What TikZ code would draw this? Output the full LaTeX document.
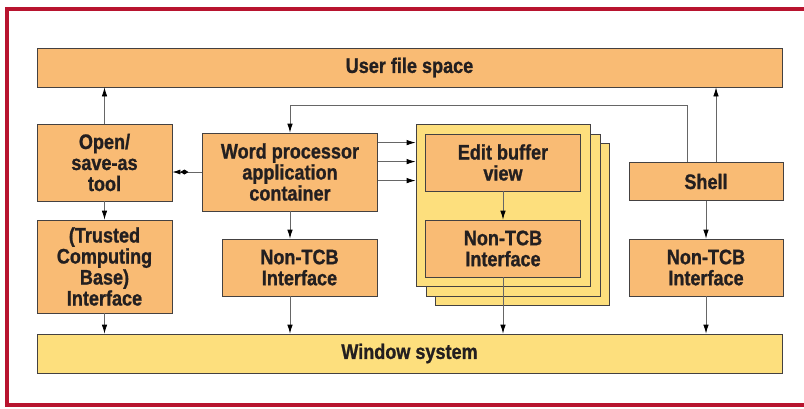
\documentclass[tikz,border=0pt]{standalone}
\usepackage{fontspec}
\setmainfont{Liberation Sans}[FakeStretch=0.86,BoldFeatures={FakeBold=1}]
\usepackage{xcolor}
\usetikzlibrary{arrows.meta}

\definecolor{boxorange}{HTML}{F9BB74}
\definecolor{boxyellow}{HTML}{FDDF7D}
\definecolor{framered}{HTML}{B8142F}
\definecolor{inkdark}{HTML}{231F20}

\begin{document}
\begin{tikzpicture}[x=1pt,y=-1pt,
    box/.style={draw=inkdark!85,line width=0.8pt,inner sep=0pt,align=center,
      text=inkdark,font=\fontsize{21}{21}\selectfont\bfseries},
    obox/.style={box,fill=boxorange},
    ybox/.style={box,fill=boxyellow},
    sheet/.style={draw=inkdark!85,line width=0.8pt,fill=boxyellow,
      minimum width=174pt,minimum height=162pt},
    arr/.style={draw=black!60,line width=0.8pt,-{Latex[length=9pt,width=5.5pt,black]}},
    dia/.style={draw=black!60,line width=0.8pt,-{Diamond[length=8pt,width=5pt,black]Latex[length=8pt,width=5pt,black]}}]
  \useasboundingbox (0,0) rectangle (804,408);
  % outer frame, open on the right
  \draw[framered,line width=4pt] (830,8.5) -- (7,8.5) -- (7,405) -- (830,405);
  % --- top and bottom bars ---
  \node[obox,minimum width=745pt,minimum height=39pt] (ufs) at (409.5,67.5) {User file space};
  \node[ybox,minimum width=745pt,minimum height=39pt] (win) at (409.5,353.5) {Window system};
  % --- trusted side ---
  \node[obox,minimum width=135pt,minimum height=77pt] (open) at (104.5,162.5) {Open/\\save-as\\tool};
  \node[obox,minimum width=135pt,minimum height=93pt] (tcb) at (104.5,266.5) {(Trusted\\Computing\\Base)\\Interface};
  % --- application ---
  \node[obox,minimum width=175pt,minimum height=78pt] (wp) at (290,172) {Word processor\\application\\container};
  \node[obox,minimum width=155pt,minimum height=57pt] (nt1) at (299.5,267.5) {Non-TCB\\Interface};
  % stacked view sheets
  \node[sheet] (back) at (522.5,224.5) {};
  \node[sheet] (mid) at (513,215) {};
  \node[sheet] (front) at (503,205) {};
  \node[obox,minimum width=155pt,minimum height=57pt] (eb) at (503,162.5) {Edit buffer\\view};
  \node[obox,minimum width=155pt,minimum height=57pt] (nt2) at (503,248.5) {Non-TCB\\Interface};
  % --- shell ---
  \node[obox,minimum width=154pt,minimum height=38pt] (shell) at (706,181.5) {Shell};
  \node[obox,minimum width=154pt,minimum height=57pt] (nt3) at (706,267.5) {Non-TCB\\Interface};
  % --- connectors ---
  \draw[arr] (open.north) -- (open.north |- ufs.south);
  \draw[arr] (open.south) -- (tcb.north);
  \draw[arr] (tcb.south) -- (tcb.south |- win.north);
  \draw[dia] (wp.west) -- (wp.west -| open.east);
  \draw[arr] (wp.south) -- (wp.south |- nt1.north);
  \draw[arr] (wp.south |- nt1.south) -- (wp.south |- win.north);
  \foreach \dy in {10,29,48}
    \draw[arr] ([yshift=-\dy pt]wp.north east) -- ([yshift=-\dy pt]wp.north east -| front.west);
  \draw[arr] (eb.south) -- (nt2.north);
  \draw[arr] (nt2.south) -- (nt2.south |- win.north);
  \draw[arr] (shell.south) -- (nt3.north);
  \draw[arr] (nt3.south) -- (nt3.south |- win.north);
  \draw[arr] ([xshift=10pt]shell.north) -- ([xshift=10pt]shell.north |- ufs.south);
  \coordinate (loop) at ([xshift=-19pt,yshift=57pt]shell.north);
  \draw[arr] ([xshift=-19pt]shell.north) -- (loop) -| (wp.north);
\end{tikzpicture}
\end{document}
